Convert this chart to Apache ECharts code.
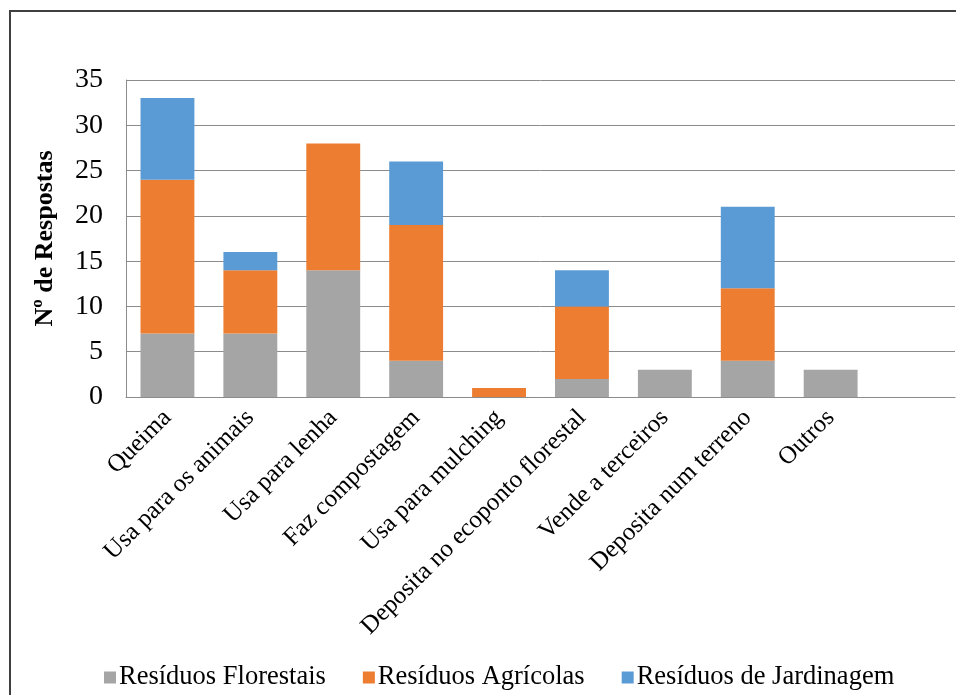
<!DOCTYPE html>
<html>
<head>
<meta charset="utf-8">
<script src="https://cdn.jsdelivr.net/npm/echarts@6/dist/echarts.min.js"></script>
<style>
  html, body { margin: 0; padding: 0; background: #fff; }
  #chart { width: 956px; height: 695px; }
</style>
</head>
<body>
<div id="chart"></div>
<script>
// Destino dado aos resíduos, por tipo (número de respostas)
const categories = [
  'Queima', 'Usa para os animais', 'Usa para lenha', 'Faz compostagem',
  'Usa para mulching', 'Deposita no ecoponto florestal', 'Vende a terceiros',
  'Deposita num terreno', 'Outros', ''
];
const florestais = [7, 7, 14, 4, 0, 2, 3, 4, 3, null];
const agricolas  = [17, 7, 14, 15, 1, 8, 0, 8, 0, null];
const jardinagem = [9, 2, 0, 7, 0, 4, 0, 9, 0, null];
const seriesNames = ['Resíduos Florestais', 'Resíduos Agrícolas', 'Resíduos de Jardinagem'];
const colors = ['#A5A5A5', '#ED7D31', '#5B9BD5'];

const font = '"Liberation Serif", "Times New Roman", serif';
const chart = echarts.init(document.getElementById('chart'));

function barSeries(name, data, color) {
  return {
    name: name,
    type: 'bar',
    stack: 'total',
    data: data,
    barWidth: '65%',
    itemStyle: { color: color },
    emphasis: { disabled: true }
  };
}

chart.setOption({
  animation: false,
  color: colors,
  textStyle: { fontFamily: font, color: '#000' },
  graphic: [{
    type: 'rect',
    shape: { x: 10, y: 11, width: 1000, height: 1000 },
    style: { fill: 'none', stroke: '#404040', lineWidth: 2 },
    silent: true
  }],
  grid: { left: 126, right: 1, top: 80, bottom: 298 },
  legend: {
    data: seriesNames,
    left: 99,
    bottom: -1,
    icon: 'rect',
    itemWidth: 12,
    itemHeight: 12,
    itemGap: 37,
    textStyle: { fontFamily: font, fontSize: 26.5, color: '#000', padding: [0, 0, 0, -2] }
  },
  xAxis: {
    type: 'category',
    data: categories,
    axisLine: { lineStyle: { color: '#8c8c8c', width: 1 } },
    axisTick: { show: false },
    axisLabel: {
      interval: 0,
      rotate: 45,
      margin: 17,
      fontFamily: font,
      fontSize: 25,
      color: '#000'
    }
  },
  yAxis: {
    type: 'value',
    min: 0,
    max: 35,
    interval: 5,
    name: 'Nº de Respostas',
    nameLocation: 'middle',
    nameGap: 68,
    nameTextStyle: { fontFamily: font, fontSize: 26, fontWeight: 'bold', color: '#000' },
    axisLine: { show: true, lineStyle: { color: '#8c8c8c', width: 1 } },
    axisTick: { show: false },
    axisLabel: { fontFamily: font, fontSize: 28, color: '#000', margin: 23 },
    splitLine: { lineStyle: { color: '#8c8c8c', width: 1 } }
  },
  series: [
    barSeries(seriesNames[0], florestais, colors[0]),
    barSeries(seriesNames[1], agricolas, colors[1]),
    barSeries(seriesNames[2], jardinagem, colors[2])
  ]
});
</script>
</body>
</html>
